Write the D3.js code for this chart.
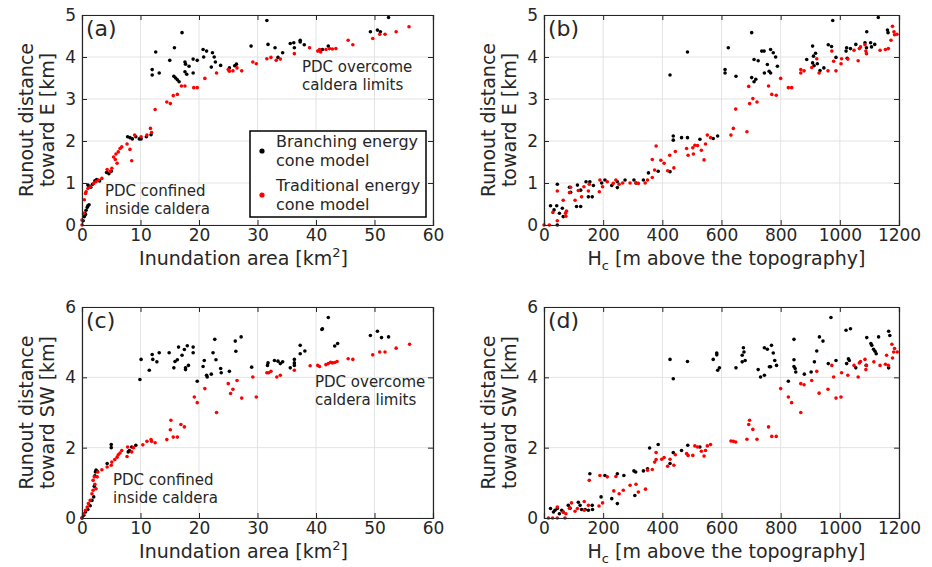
<!DOCTYPE html>
<html>
<head>
<meta charset="utf-8">
<script src="https://cdn.jsdelivr.net/npm/d3@7"></script>
<style>
  body { margin: 0; background: #fff; }
  svg text { font-family: "DejaVu Sans", sans-serif; fill: #262626; }
</style>
</head>
<body>
<div id="chart"></div>
<script>
// runout toward E vs inundation area (a)
var aBlack = [[0.2,0.1],[0.4,0.2],[0.5,0.28],[0.6,0.25],[0.7,0.35],[0.9,0.42],[1.0,0.46],[1.2,0.48],
  [1.0,0.95],[1.3,0.92],[1.5,0.9],[1.8,0.97],[2.2,1.05],[2.5,1.08],[3.0,1.05],
  [4.2,1.25],[4.6,1.22],[5.0,1.28],
  [7.8,2.1],[8.2,2.08],[8.6,2.05],[9.2,2.1],[9.8,2.05],[10.1,2.05],[11,2.1],[11.8,2.15],
  [12.0,3.70],[12.0,3.57],[12.6,4.12],[13.2,3.62],[15.0,3.92],[15.8,4.22],[17.1,4.58],[15.7,3.54],
  [16.0,3.50],[16.3,3.46],[16.6,3.41],[17.6,3.88],[17.7,3.83],[17.6,3.65],[17.9,3.59],[18.3,3.78],
  [19.0,3.95],[19.0,3.62],[19.7,3.92],[20.7,4.18],[20.8,4.0],[21.3,4.14],[22.3,4.10],[22.6,4.0],
  [22.1,3.76],[22.8,3.88],[23.7,3.80],[25.2,3.74],[26.1,3.79],[26.4,3.83],[28.9,4.26],[31.6,4.87],
  [31.8,4.30],[33.0,4.22],[33.5,3.99],[34.3,4.10],[35.6,4.32],[36.2,4.34],[36.3,4.22],[37.3,4.40],
  [37.3,4.36],[38.0,4.29],[41.1,4.18],[42.1,4.26],[49.3,4.60],[50.5,4.64],[51.0,4.60],[52.4,4.94]];
var aRed = [[0,0],[0,0.12],[0.3,0.28],[0.4,0.6],[0.6,0.75],[0.7,0.79],[1.0,0.87],[1.4,0.91],[2.0,0.99],
  [2.4,1.03],[2.8,1.07],[3.4,1.11],[4.3,1.32],[4.8,1.28],[5.1,1.35],[5.7,1.56],[6.0,1.47],[5.8,1.69],
  [6.2,1.74],[6.5,1.82],[6.8,1.86],[5.4,1.62],[7.7,1.93],[8.2,1.80],[8.5,1.53],[9.0,2.14],[10.1,2.10],
  [11.1,2.14],[11.7,2.30],[11.9,2.20],[12.5,2.75],[14.5,2.93],[15.1,2.89],[15.6,3.08],[16.3,3.11],
  [17.0,3.31],[17.6,3.31],[19.1,3.27],[19.7,3.27],[21.0,3.49],[23.0,3.62],[25.0,3.70],[25.2,3.66],
  [25.8,3.67],[26.5,3.74],[27.3,3.67],[29.2,3.88],[29.8,3.84],[31.6,3.96],[32.3,3.99],[33.2,3.92],
  [33.9,3.95],[36.3,4.08],[38.9,4.22],[40.3,4.14],[40.6,4.18],[40.8,4.12],[41.7,4.18],[42.3,4.2],
  [42.8,4.19],[43.4,4.2],[45.5,4.40],[46.3,4.29],[49.7,4.44],[50.9,4.54],[51.8,4.54],[53.7,4.60],[55.9,4.72]];

// runout toward E vs Hc (b)
var bBlack = [[22,0.46],[34,0.36],[43,0.46],[45,0.97],[45,0],[52,0.28],[62,0.40],[65,0.2],[86,0.9],[90,0.78],
  [113,0.95],[110,0.44],[124,0.44],[124,0.83],[142,1.03],[155,1.03],[150,0.67],[163,0.67],[167,0.94],
  [195,1.0],[206,1.07],[229,0.94],[248,0.89],[248,1.03],[274,1.07],[304,1.07],[311,1.0],[336,1.07],
  [353,1.24],[386,1.28],[426,1.27],[426,3.57],[437,2.12],[437,2.02],[465,2.08],[485,4.12],[485,2.08],
  [527,2.04],[572,2.06],[587,2.12],[612,3.7],[612,3.62],[623,4.22],[649,3.54],[702,4.58],[702,3.51],
  [710,3.94],[710,3.41],[716,3.47],[724,3.91],[736,4.14],[744,4.14],[755,3.82],[766,3.62],[761,3.66],
  [766,4.18],[775,4.10],[783,4.0],[789,3.78],[745,3.62],[888,3.94],[908,4.26],[911,4.02],[908,3.86],
  [913,3.79],[918,4.09],[924,3.84],[933,3.68],[946,3.74],[961,4.29],[972,4.25],[976,4.87],[987,3.99],
  [1021,4.14],[1023,4.22],[1036,4.2],[1054,4.3],[1091,4.6],[1085,4.34],[1104,4.34],[1107,4.24],
  [1118,4.3],[1130,4.94],[1161,4.64],[1163,4.58],[1025,3.97],[1090,4.22]];
var bRed = [[0,0],[18,0],[30,0.3],[45,0.81],[45,0.1],[65,0.59],[73,0.28],[74,0.21],[76,0.33],[86,0.77],
  [90,0.9],[105,0.59],[116,0.82],[127,0.67],[135,0.91],[150,0.81],[153,0.97],[187,0.79],[189,1.07],
  [198,0.91],[214,1.03],[234,0.99],[243,1.07],[254,0.97],[266,1.0],[291,1.0],[311,1.0],[319,0.99],
  [342,1.0],[350,1.07],[366,1.13],[366,1.56],[374,1.31],[379,1.88],[395,1.54],[406,1.47],[418,1.29],
  [425,1.66],[439,1.36],[444,1.75],[482,1.82],[487,1.66],[503,1.84],[505,1.69],[510,1.90],[519,1.89],
  [532,1.78],[541,1.55],[546,1.93],[552,2.14],[563,2.08],[632,2.14],[640,2.30],[648,2.76],[686,2.22],
  [692,3.30],[695,2.89],[706,3.01],[720,2.93],[759,3.31],[770,3.11],[785,3.09],[800,3.49],[826,3.27],
  [837,3.27],[868,3.70],[868,3.62],[879,3.67],[905,3.75],[922,3.96],[930,3.62],[960,3.67],[973,4.14],
  [979,3.90],[987,3.67],[1004,3.84],[1006,3.96],[1027,3.95],[1048,4.16],[1062,3.91],[1066,4.2],
  [1070,4.24],[1085,4.29],[1088,4.14],[1090,4.08],[1136,4.16],[1154,4.18],[1164,4.2],[1173,4.4],
  [1178,4.73],[1185,4.53],[1183,4.6],[1193,4.54]];

// runout toward SW vs inundation area (c)
var cBlack = [[0,0],[0.3,0.08],[0.6,0.17],[1.0,0.24],[1.4,0.35],[1.7,0.5],[2.0,0.6],[2.1,0.9],[2.2,1.2],
  [2.3,1.31],[2.4,1.36],[2.6,1.33],[4.3,1.55],[5.0,2.09],[5.0,2.0],[7.9,1.88],[8.1,1.92],[8.5,2.02],
  [9.2,2.07],[9.9,3.94],[10.1,4.51],[11.5,4.2],[12.0,4.65],[12.1,4.51],[12.8,4.44],[13.2,4.70],
  [14.9,4.70],[15.7,4.27],[15.9,4.45],[16.3,4.5],[16.5,4.86],[17.1,4.63],[17.5,4.79],[17.7,4.27],
  [17.7,4.22],[18.0,4.9],[18.2,4.34],[19.0,4.86],[19.0,4.70],[19.7,3.89],[20.7,4.31],[20.9,4.48],
  [21.3,4.06],[21.4,4.01],[22.1,4.09],[22.4,4.70],[22.7,5.08],[22.9,4.50],[23.7,4.25],[23.8,4.13],
  [25.2,4.17],[26.2,5.03],[26.3,4.74],[27.2,5.15],[29.0,4.29],[31.7,4.34],[31.8,4.41],[32.9,4.48],
  [33.5,4.46],[33.9,4.39],[34.3,4.44],[35.6,4.27],[36.3,4.51],[36.3,4.41],[36.3,4.34],[37.3,4.91],
  [37.3,4.67],[38.1,4.75],[41.0,5.36],[41.1,5.38],[42.1,5.70],[43.2,4.89],[43.7,4.96],[49.3,5.19],
  [50.5,5.31],[51.2,5.13],[52.4,5.15]];
var cRed = [[0,0],[0.3,0.12],[0.6,0.22],[0.9,0.31],[1.1,0.41],[1.4,0.5],[1.7,0.69],[1.9,0.79],[1.9,1.07],
  [2.1,1.17],[2.2,0.96],[2.4,0.83],[2.6,1.17],[2.7,1.31],[3.4,1.37],[4.3,1.45],[5.0,1.50],[5.1,1.59],
  [5.6,1.66],[6.0,1.73],[6.2,1.8],[6.5,1.85],[6.8,1.92],[7.7,1.75],[7.8,2.02],[8.5,1.88],[8.8,2.0],
  [10.4,2.08],[11.1,2.18],[11.8,2.23],[11.9,2.18],[12.5,2.14],[14.5,2.23],[15.2,2.78],[15.1,2.51],
  [15.6,2.30],[16.3,2.30],[16.9,2.66],[17.5,2.59],[19.2,3.44],[19.7,3.28],[21.0,3.68],[23.0,3.0],
  [25.0,3.82],[25.4,3.54],[25.8,3.66],[26.5,3.91],[27.3,3.41],[29.2,4.01],[29.8,3.44],[31.6,4.13],
  [31.9,4.13],[32.3,4.17],[33.3,4.01],[33.9,4.06],[36.3,4.2],[39.0,4.33],[40.3,4.34],[40.6,4.31],
  [41.7,4.36],[42.1,4.39],[42.5,4.43],[42.8,4.41],[43.2,4.42],[43.6,4.45],[45.5,4.53],[46.3,4.51],
  [49.7,4.64],[50.9,4.72],[51.8,4.72],[53.7,4.83],[56.0,4.94]];

// runout toward SW vs Hc (d)
var dBlack = [[22,0.27],[32,0.17],[37,0.22],[45,0.27],[52,0.12],[60,0.22],[65,0.17],[82,0.36],[88,0.28],
  [116,0.45],[122,0.36],[127,0.24],[139,0.24],[150,0.22],[155,1.26],[163,0.36],[164,0.24],[193,0.6],
  [206,1.21],[229,0.55],[248,0.41],[248,1.26],[270,1.21],[304,1.34],[307,0.64],[310,1.31],[336,1.34],
  [350,1.40],[357,1.99],[386,2.09],[426,1.55],[426,4.51],[437,3.96],[437,1.86],[465,1.92],[485,4.45],
  [486,2.07],[527,2.02],[572,4.51],[584,4.69],[584,4.64],[587,4.2],[593,4.27],[649,4.27],[670,4.63],
  [674,4.84],[676,4.72],[680,4.48],[670,4.44],[724,4.22],[732,4.01],[745,4.06],[745,4.84],[755,4.8],
  [762,4.3],[766,4.3],[769,4.91],[775,4.69],[780,4.48],[786,4.34],[826,3.89],[845,5.08],[845,4.5],
  [845,4.31],[849,4.25],[851,4.15],[880,4.09],[903,4.15],[914,4.44],[922,4.75],[931,5.15],[943,5.03],
  [961,4.39],[970,5.70],[987,4.48],[1021,5.34],[1023,4.39],[1029,4.53],[1032,4.48],[1036,5.38],
  [1054,4.27],[1091,5.13],[1089,4.34],[1105,4.96],[1108,4.91],[1114,4.80],[1119,4.74],[1123,4.67],
  [1131,5.15],[1165,5.31],[1169,5.19],[1165,4.27]];
var dRed = [[15,0],[29,0],[45,0],[45,0.31],[65,0.17],[71,0],[74,0.12],[86,0.28],[93,0.43],[105,0.19],
  [113,0.27],[136,0.47],[136,0.22],[150,0.36],[153,1.07],[186,0.34],[189,1.21],[198,0.43],[214,1.17],
  [236,0.77],[243,1.18],[254,0.69],[268,0.79],[291,0.93],[311,0.96],[319,0.74],[343,0.82],[350,1.36],
  [366,1.38],[374,1.59],[379,1.66],[379,1.86],[398,1.67],[406,1.72],[418,1.47],[426,1.67],[439,1.50],
  [444,1.80],[482,1.83],[487,1.78],[503,1.78],[510,2.05],[519,2.02],[532,1.90],[541,1.76],[546,1.92],
  [552,2.05],[563,2.09],[632,2.19],[640,2.18],[648,2.16],[686,2.24],[692,2.66],[695,2.78],[706,2.52],
  [720,2.24],[759,2.59],[770,2.32],[785,2.32],[800,3.68],[826,3.44],[837,3.28],[868,3.0],[868,3.82],
  [879,3.79],[905,3.91],[922,4.17],[930,3.55],[960,3.66],[973,4.34],[979,4.01],[987,3.41],[1004,3.44],
  [1006,4.13],[1027,4.06],[1048,4.34],[1062,4.01],[1066,4.41],[1070,4.45],[1085,4.51],[1088,4.22],
  [1090,4.34],[1115,4.44],[1136,4.34],[1154,4.37],[1164,4.34],[1158,4.63],[1176,4.94],[1178,4.55],
  [1182,4.72],[1185,4.82],[1194,4.72]];

var areaTicks = [0, 10, 20, 30, 40, 50, 60];
var hcTicks = [0, 200, 400, 600, 800, 1000, 1200];
var eTicks = [0, 1, 2, 3, 4, 5];
var swTicks = [0, 2, 4, 6];
var legendLabels = [["Branching energy", "cone model"], ["Traditional energy", "cone model"]];

var W = 932, H = 567;
var axisColor = '#262626';

var svg = d3.select('#chart').append('svg')
  .attr('width', W).attr('height', H);

var panels = [
  { tag: '(a)', box: [82, 433, 15, 225], xt: areaTicks, yt: eTicks, black: aBlack, red: aRed,
    xlab: 'area', ylab: 'toward E [km]', notes: true, legend: true },
  { tag: '(b)', box: [544, 899, 15, 225], xt: hcTicks, yt: eTicks, black: bBlack, red: bRed,
    xlab: 'hc', ylab: 'toward E [km]' },
  { tag: '(c)', box: [82, 433, 307, 518], xt: areaTicks, yt: swTicks, black: cBlack, red: cRed,
    xlab: 'area', ylab: 'toward SW [km]', notes: true },
  { tag: '(d)', box: [544, 899, 307, 518], xt: hcTicks, yt: swTicks, black: dBlack, red: dRed,
    xlab: 'hc', ylab: 'toward SW [km]' }
];

var fmt = d3.format('d');

panels.forEach(function (p) {
  var x0 = p.box[0], x1 = p.box[1], y0 = p.box[2], y1 = p.box[3];
  var xs = d3.scaleLinear().domain(d3.extent(p.xt)).range([x0, x1]);
  var ys = d3.scaleLinear().domain(d3.extent(p.yt)).range([y1, y0]);
  var g = svg.append('g');

  // grid
  g.selectAll('.gx').data(p.xt).enter().append('line')
    .attr('x1', d => xs(d)).attr('x2', d => xs(d)).attr('y1', y0).attr('y2', y1)
    .attr('stroke', '#e3e3e3').attr('stroke-width', 1);
  g.selectAll('.gy').data(p.yt).enter().append('line')
    .attr('x1', x0).attr('x2', x1).attr('y1', d => ys(d)).attr('y2', d => ys(d))
    .attr('stroke', '#e3e3e3').attr('stroke-width', 1);

  // points
  g.selectAll('.pb').data(p.black).enter().append('circle')
    .attr('cx', d => xs(d[0])).attr('cy', d => ys(d[1])).attr('r', 1.8).attr('fill', '#000');
  g.selectAll('.pr').data(p.red).enter().append('circle')
    .attr('cx', d => xs(d[0])).attr('cy', d => ys(d[1])).attr('r', 1.8).attr('fill', '#ff0000');

  // axes (ticks inside, on all sides)
  var tl = 5;
  g.append('g').attr('transform', `translate(0,${y1})`)
    .call(d3.axisBottom(xs).tickValues(p.xt).tickFormat(fmt).tickSize(-tl).tickPadding(4));
  g.append('g').attr('transform', `translate(0,${y0})`)
    .call(d3.axisTop(xs).tickValues(p.xt).tickSize(-tl).tickFormat(''));
  g.append('g').attr('transform', `translate(${x0},0)`)
    .call(d3.axisLeft(ys).tickValues(p.yt).tickFormat(fmt).tickSize(-tl).tickPadding(6));
  g.append('g').attr('transform', `translate(${x1},0)`)
    .call(d3.axisRight(ys).tickValues(p.yt).tickSize(-tl).tickFormat(''));
  g.selectAll('.domain').attr('stroke', axisColor).attr('stroke-width', 1.2);
  g.selectAll('.tick line').attr('stroke', axisColor).attr('stroke-width', 1);
  g.selectAll('.tick text').attr('font-size', 17).attr('font-family', '"DejaVu Sans", sans-serif')
    .attr('fill', axisColor);

  // panel tag
  g.append('text').attr('x', x0 + 4).attr('y', y0 + 21)
    .attr('font-size', 22).text(p.tag);

  // y label
  var cy = (y0 + y1) / 2;
  var yl = g.append('text').attr('transform', `translate(${x0 - 49},${cy}) rotate(-90)`)
    .attr('text-anchor', 'middle').attr('font-size', 19);
  yl.append('tspan').attr('x', 0).attr('dy', 0).text('Runout distance');
  yl.append('tspan').attr('x', 0).attr('dy', 21).text(p.ylab);

  // x label
  var xl = g.append('text').attr('y', y1 + 40).attr('font-size', 19).attr('text-anchor', 'middle');
  if (p.xlab === 'area') {
    xl.attr('x', (x0 + x1) / 2 - 14);
    xl.append('tspan').text('Inundation area [km');
    xl.append('tspan').attr('font-size', 13).attr('dy', -8).text('2');
    xl.append('tspan').attr('dy', 8).text(']');
  } else {
    xl.attr('x', (x0 + x1) / 2 + 5);
    xl.append('tspan').text('H');
    xl.append('tspan').attr('font-size', 13).attr('dy', 5).text('c');
    xl.append('tspan').attr('dy', -5).text(' [m above the topography]');
  }

  if (p.notes) {
    var top = p.tag === '(a)' ? [302, 72] : [315, 387];
    var bot = p.tag === '(a)' ? [105, 196] : [113, 485];
    [[top, 'PDC overcome', 'caldera limits'], [bot, 'PDC confined', 'inside caldera']].forEach(function (n) {
      var t = g.append('text').attr('font-size', 15);
      t.append('tspan').attr('x', n[0][0]).attr('y', n[0][1]).text(n[1]);
      t.append('tspan').attr('x', n[0][0]).attr('y', n[0][1] + 18).text(n[2]);
    });
  }

  if (p.legend) {
    var lg = g.append('g');
    lg.append('rect').attr('x', 250).attr('y', 131).attr('width', 176).attr('height', 86)
      .attr('fill', '#fff').attr('stroke', '#000').attr('stroke-width', 1.5);
    var colors = ['#000', '#ff0000'];
    legendLabels.forEach(function (lab, i) {
      var by = 147 + i * 44;
      lg.append('circle').attr('cx', 262).attr('cy', by + 4).attr('r', 2.6).attr('fill', colors[i]);
      var t = lg.append('text').attr('font-size', 16);
      t.append('tspan').attr('x', 276).attr('y', by).text(lab[0]);
      t.append('tspan').attr('x', 276).attr('y', by + 19).text(lab[1]);
    });
  }
});
</script>
</body>
</html>
